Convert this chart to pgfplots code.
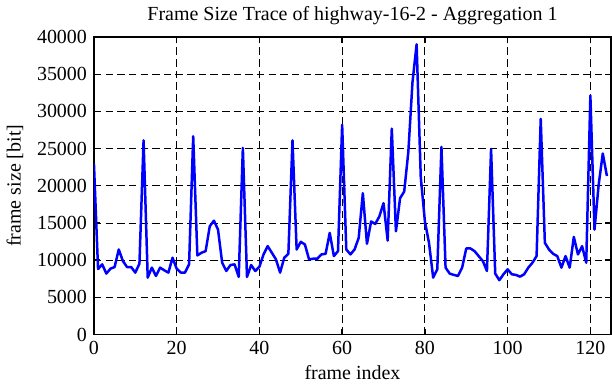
\documentclass[border=0pt]{standalone}
\usepackage{fontspec}
\setmainfont{Liberation Serif}
\usepackage{pgfplots}
\pgfplotsset{compat=1.18}
\begin{document}
\fontsize{12}{14}\selectfont
\begin{tikzpicture}
\begin{axis}[
  scale only axis,
  width=310.8pt, height=178.8pt,
  xmin=0, xmax=125, ymin=0, ymax=40000,
  xtick={0,20,40,60,80,100,120},
  ytick={0,5000,10000,15000,20000,25000,30000,35000,40000},
  scaled y ticks=false,
  /pgf/number format/assume math mode=true,
  /pgf/number format/1000 sep={},
  tick align=inside,
  major tick length=3.5pt,
  tick style={black, line width=0.8pt},
  axis line style={line width=0.8pt},
  grid=major,
  major grid style={black, dash pattern=on 4.5pt off 2.5pt, line width=0.5pt},
  title={Frame Size Trace of highway-16-2 - Aggregation 1},
  title style={yshift=-3pt},
  xlabel={frame index},
  ylabel={frame size [bit]},
  xlabel style={yshift=2pt},
  ylabel style={yshift=0pt},
  tick label style={font=\fontsize{12}{14}\selectfont},
  label style={font=\fontsize{12}{14}\selectfont},
]
\addplot[blue, line width=1.5pt, line join=round] table {
x y
0 23000
1 8800
2 9430
3 8190
4 8850
5 9070
6 11430
7 9880
8 9070
9 9070
10 8320
11 9520
12 26100
13 7650
14 8990
15 7870
16 8990
17 8630
18 8320
19 10320
20 8850
21 8320
22 8320
23 9430
24 26650
25 10630
26 10990
27 11210
28 14550
29 15300
30 14100
31 9650
32 8540
33 9340
34 9430
35 7740
36 25090
37 7740
38 9340
39 8540
40 9100
41 10770
42 11880
43 10990
44 10100
45 8320
46 10320
47 10850
48 26100
49 11430
50 12460
51 12100
52 10100
53 10190
54 10190
55 10770
56 10850
57 13660
58 10540
59 11210
60 28200
61 11430
62 10770
63 11430
64 12990
65 19000
66 12200
67 15200
68 14860
69 15880
70 17660
71 12630
72 27670
73 13880
74 18330
75 19220
76 24560
77 33900
78 39010
79 21220
80 15210
81 12300
82 7650
83 8760
84 25220
85 8990
86 8190
87 8010
88 7870
89 8990
90 11570
91 11570
92 11210
93 10540
94 9880
95 8540
96 24910
97 8190
98 7300
99 8100
100 8760
101 8100
102 8010
103 7780
104 8100
105 8990
106 9650
107 10540
108 29000
109 12320
110 11430
111 10850
112 10540
113 8990
114 10540
115 8990
116 13120
117 10770
118 11880
119 9650
120 32120
121 14100
122 20110
123 24330
124 21310
};
\end{axis}
\end{tikzpicture}
\end{document}
